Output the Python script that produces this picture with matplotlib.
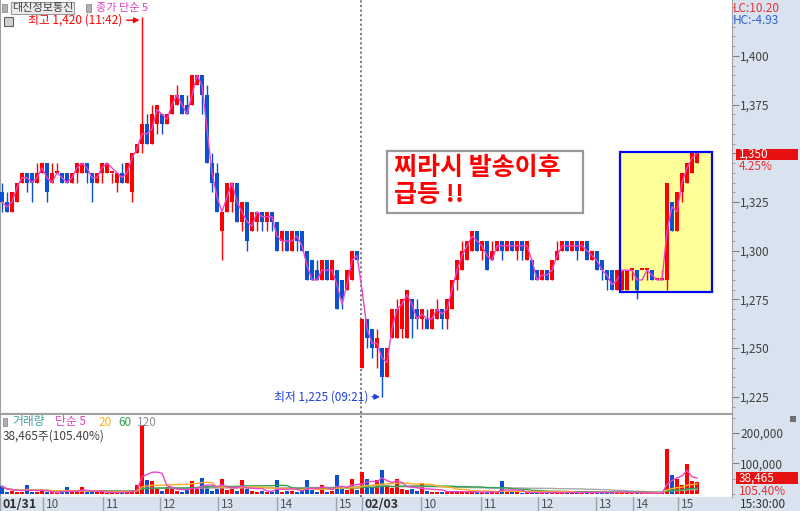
import matplotlib
matplotlib.use('Agg')
import matplotlib.pyplot as plt
import numpy as np
import pandas as pd
from matplotlib.patches import Rectangle
from matplotlib.ticker import MultipleLocator, FixedLocator, FixedFormatter

plt.rcParams['font.family'] = ['Noto Sans CJK KR', 'DejaVu Sans']

# ---------------- data (one candle ~ 5 minutes) ----------------
opens = [1330, 1325, 1320, 1325, 1335, 1340, 1340, 1335, 1340, 1345,
         1335, 1340, 1340, 1340, 1335, 1340, 1340, 1345, 1340, 1335,
         1340, 1340, 1340, 1335, 1340, 1335, 1330, 1350, 1355, 1365,
         1355, 1365, 1370, 1365, 1370, 1375, 1380, 1375, 1375, 1385,
         1390, 1380, 1345, 1340, 1310, 1320, 1325, 1335, 1315, 1325,
         1310, 1315, 1320, 1315, 1320, 1315, 1305, 1310, 1300, 1310,
         1310, 1300, 1295, 1290, 1285, 1295, 1285, 1290, 1285, 1280,
         1285, 1300,
         1240, 1265, 1260, 1250, 1250, 1235, 1255, 1255, 1260, 1255,
         1275, 1270, 1265, 1265, 1260, 1265, 1270, 1265, 1270, 1285,
         1290, 1295, 1300, 1310, 1300, 1305, 1295, 1300, 1305, 1300,
         1305, 1300, 1305, 1295, 1295, 1290, 1285, 1290, 1285, 1295,
         1300, 1305, 1300, 1305, 1300, 1305, 1295, 1300, 1295, 1290,
         1290, 1280, 1280, 1280, 1290, 1290, 1290, 1290, 1290, 1285,
         1285, 1285, 1325, 1310, 1330, 1335, 1340, 1345]
highs = [1335, 1330, 1330, 1335, 1340, 1340, 1340, 1345, 1345, 1345,
         1345, 1345, 1340, 1340, 1340, 1345, 1345, 1345, 1340, 1340,
         1345, 1345, 1340, 1340, 1345, 1345, 1350, 1355, 1420, 1370,
         1375, 1375, 1370, 1370, 1380, 1385, 1380, 1380, 1390, 1390,
         1390, 1385, 1350, 1345, 1320, 1335, 1335, 1335, 1325, 1325,
         1320, 1320, 1320, 1320, 1320, 1315, 1310, 1310, 1310, 1310,
         1310, 1300, 1295, 1295, 1295, 1295, 1295, 1290, 1285, 1290,
         1300, 1300,
         1265, 1265, 1260, 1260, 1250, 1250, 1270, 1275, 1275, 1280,
         1275, 1275, 1270, 1270, 1270, 1275, 1270, 1275, 1285, 1295,
         1305, 1305, 1310, 1310, 1305, 1305, 1305, 1305, 1305, 1305,
         1305, 1305, 1305, 1305, 1295, 1290, 1290, 1290, 1295, 1305,
         1305, 1305, 1305, 1305, 1305, 1305, 1300, 1300, 1295, 1290,
         1290, 1290, 1290, 1290, 1290, 1290, 1290, 1290, 1290, 1285,
         1290, 1335, 1325, 1330, 1340, 1345, 1350, 1350]
lows = [1320, 1320, 1320, 1325, 1335, 1330, 1325, 1335, 1340, 1325,
        1335, 1340, 1335, 1335, 1335, 1335, 1340, 1335, 1325, 1335,
        1335, 1340, 1335, 1330, 1335, 1335, 1325, 1350, 1350, 1355,
        1355, 1360, 1360, 1365, 1370, 1375, 1370, 1370, 1375, 1385,
        1370, 1345, 1330, 1320, 1295, 1320, 1320, 1315, 1310, 1300,
        1310, 1310, 1310, 1310, 1310, 1300, 1300, 1300, 1300, 1300,
        1300, 1285, 1285, 1285, 1285, 1285, 1285, 1270, 1270, 1280,
        1285, 1295,
        1240, 1250, 1245, 1240, 1225, 1235, 1255, 1255, 1255, 1255,
        1255, 1260, 1260, 1260, 1260, 1265, 1260, 1260, 1270, 1280,
        1290, 1295, 1300, 1300, 1295, 1290, 1295, 1300, 1295, 1300,
        1300, 1295, 1295, 1295, 1285, 1285, 1285, 1285, 1285, 1295,
        1300, 1300, 1300, 1295, 1300, 1295, 1295, 1290, 1285, 1280,
        1280, 1280, 1280, 1280, 1285, 1275, 1290, 1285, 1285, 1285,
        1285, 1280, 1310, 1310, 1325, 1335, 1340, 1345]
closes = [1325, 1320, 1330, 1335, 1340, 1335, 1335, 1340, 1345, 1330,
          1340, 1340, 1335, 1335, 1340, 1345, 1345, 1340, 1335, 1340,
          1345, 1345, 1340, 1340, 1335, 1345, 1350, 1355, 1365, 1355,
          1370, 1375, 1365, 1370, 1380, 1380, 1370, 1370, 1390, 1390,
          1380, 1345, 1335, 1320, 1320, 1335, 1335, 1315, 1325, 1305,
          1320, 1320, 1315, 1320, 1315, 1300, 1310, 1300, 1310, 1305,
          1300, 1285, 1285, 1285, 1295, 1285, 1295, 1270, 1275, 1290,
          1300, 1295,
          1265, 1255, 1250, 1255, 1235, 1250, 1270, 1270, 1275, 1280,
          1265, 1265, 1270, 1260, 1270, 1270, 1265, 1275, 1285, 1295,
          1300, 1305, 1310, 1300, 1305, 1290, 1300, 1305, 1300, 1305,
          1300, 1305, 1300, 1305, 1285, 1285, 1290, 1285, 1295, 1300,
          1305, 1300, 1305, 1300, 1305, 1295, 1300, 1290, 1290, 1285,
          1280, 1290, 1290, 1290, 1290, 1280, 1290, 1290, 1285, 1285,
          1285, 1335, 1310, 1330, 1340, 1345, 1350, 1350]
volumes_k = [25, 8, 10, 6, 8, 30, 6, 5, 10, 6,
             5, 4, 8, 22, 5, 6, 22, 5, 8, 5,
             6, 4, 5, 6, 5, 8, 12, 30, 225, 45,
             43, 15, 10, 22, 20, 10, 8, 12, 42, 15,
             52, 25, 10, 15, 50, 12, 15, 10, 45, 15,
             10, 8, 10, 6, 8, 45, 8, 10, 10, 6,
             15, 47, 12, 8, 30, 8, 10, 63, 15, 12,
             50, 12,
             73, 50, 20, 45, 77, 25, 20, 50, 15, 12,
             15, 10, 35, 10, 8, 8, 6, 6, 10, 8,
             6, 5, 8, 6, 5, 8, 6, 5, 42, 5,
             6, 5, 4, 6, 5, 4, 5, 4, 6, 5,
             4, 5, 6, 4, 5, 6, 4, 5, 6, 5,
             4, 8, 5, 4, 3, 6, 2, 2, 2, 2,
             3, 148, 63, 50, 30, 97, 43, 38.465]

time_labels = ['01/31', '10', '11', '12', '13', '14', '15',
               '02/03', '10', '11', '12', '13', '14', '15']
time_pos = [-0.4, 8.2, 20.2, 31.6, 43.2, 55.0, 66.8,
            72.0, 83.8, 95.8, 107.2, 118.8, 126.2, 135.2]
price_ticks = [1225, 1250, 1275, 1300, 1325, 1350, 1375, 1400]
vol_ticks = [100000, 200000]

# ---------------- style ----------------
W, H = 800, 511
RED = '#ff0000'
BLUE = '#0a50d2'
MAG = '#ee44cc'
BAND = '#d9e3ef'
GRAYTXT = '#404040'

fig = plt.figure(figsize=(W / 100, H / 100), dpi=100)
fig.patch.set_facecolor('white')
fig.add_artist(Rectangle((732 / W, 0), 68 / W, 1, transform=fig.transFigure,
                         facecolor=BAND, edgecolor='none', zorder=-5))

def fr(px, py):
    return px / W, 1 - py / H

def ftext(px, py, s, **kw):
    kw.setdefault('va', 'center')
    kw.setdefault('fontsize', 8.5)
    fig.text(px / W, 1 - py / H, s, **kw)

ax = fig.add_axes([0, 1 - 413 / H, 732 / W, 413 / H])
axv = fig.add_axes([0, 1 - 497 / H, 732 / W, 83 / H])
axt = fig.add_axes([0, 0, 732 / W, 14 / H])

o = np.array(opens, float)
h = np.array(highs, float)
l = np.array(lows, float)
c = np.array(closes, float)
v = np.array(volumes_k, float) * 1000
x = np.arange(len(c))
cols = np.where(c >= o, RED, BLUE)

XMIN, XMAX = -0.4, 146

# ---------------- price pane ----------------
ax.set_xlim(XMIN, XMAX)
ax.set_ylim(1216.7, 1428.7)
ax.add_patch(Rectangle((123.6, 1278.9), 18.4, 71.8, facecolor='#ffff99',
                       edgecolor='none', zorder=1))
ax.vlines(x, l, h, colors=cols, lw=1, zorder=2)
body_lo = np.minimum(o, c)
body_h = np.maximum(np.abs(c - o), 0.9)
ax.bar(x, body_h, bottom=body_lo, width=0.8, color=cols, lw=0, zorder=3)
ma = pd.Series(c).rolling(2, min_periods=1).mean()
ax.plot(x, ma, color=MAG, lw=1, zorder=4)
ax.add_patch(Rectangle((123.6, 1278.9), 18.4, 71.8, facecolor='none',
                       edgecolor='#0000ff', lw=1.6, zorder=5))
ax.axvline(71.8, color='#606060', lw=1.2, ls=(0, (1.2, 1.6)), zorder=1)

# annotation box
ax.add_patch(Rectangle((77.0, 1319.4), 39.2, 31.8, facecolor='white',
                       edgecolor='#999999', lw=1.6, zorder=6))
ax.text(78.3, 1342.6, '찌라시 발송이후', color=RED, fontsize=18,
        fontweight='bold', va='center', ha='left', zorder=7)
ax.text(78.3, 1328.4, '급등 !!', color=RED, fontsize=18,
        fontweight='bold', va='center', ha='left', zorder=7)

# high / low markers
ax.annotate('최고 1,420 (11:42)', xy=(27.5, 1418.3), xytext=(24.1, 1418.3),
            ha='right', va='center', color=RED, fontsize=8.5,
            arrowprops=dict(arrowstyle='-|>', color=RED, lw=1,
                            mutation_scale=8, shrinkA=1, shrinkB=0))
ax.annotate('최저 1,225 (09:21)', xy=(75.6, 1225), xytext=(73.2, 1225),
            ha='right', va='center', color='#2040e0', fontsize=8.5,
            arrowprops=dict(arrowstyle='-|>', color='#2040e0', lw=1,
                            mutation_scale=8, shrinkA=1, shrinkB=0))

ax.set_xticks([])
ax.yaxis.tick_right()
ax.yaxis.set_major_locator(FixedLocator(price_ticks))
ax.yaxis.set_major_formatter(FixedFormatter(
    ['' if p == 1350 else f'{p:,}' for p in price_ticks]))
ax.yaxis.set_minor_locator(MultipleLocator(5))
ax.tick_params(axis='y', which='major', length=5, color='#808080',
               labelcolor=GRAYTXT, labelsize=8.5, pad=1)
ax.tick_params(axis='y', which='minor', length=2.5, color='#909090')
for s in ax.spines.values():
    s.set_color('#a0a0a0')
ax.spines['top'].set_visible(False)

# ---------------- volume pane ----------------
axv.set_xlim(XMIN, XMAX)
axv.set_ylim(-10000, 262000)
axv.bar(x, v, width=0.7, color=cols, lw=0, zorder=3)
vs = pd.Series(v)
for win, colr in [(50, '#a8a8a8'), (30, '#30a050'), (15, '#ffb020'), (5, MAG)]:
    axv.plot(x, vs.rolling(win, min_periods=1).mean(), color=colr, lw=1, zorder=4)
axv.axvline(71.8, color='#606060', lw=1.2, ls=(0, (1.2, 1.6)), zorder=1)
axv.set_xticks([])
axv.yaxis.tick_right()
axv.yaxis.set_major_locator(FixedLocator(vol_ticks))
axv.yaxis.set_major_formatter(FixedFormatter([f'{t:,}' for t in vol_ticks]))
axv.yaxis.set_minor_locator(MultipleLocator(50000))
axv.tick_params(axis='y', which='major', length=5, color='#808080',
                labelcolor=GRAYTXT, labelsize=8.5, pad=1)
axv.tick_params(axis='y', which='minor', length=2.5, color='#909090')
for s in axv.spines.values():
    s.set_color('#a0a0a0')

# ---------------- time band ----------------
axt.set_xlim(XMIN, XMAX)
axt.set_ylim(0, 1)
axt.set_facecolor(BAND)
axt.set_xticks([])
axt.set_yticks([])
for s in axt.spines.values():
    s.set_visible(False)
axt.vlines(time_pos, 0, 1, colors='#9aa4b0', lw=1)
for p, lab in zip(time_pos, time_labels):
    bold = '/' in lab
    axt.text(p + 0.55, 0.45, lab, fontsize=9 if bold else 8.5,
             fontweight='bold' if bold else 'normal',
             color='#303030' if bold else '#505050', va='center', ha='left')

# ---------------- right band labels ----------------
ftext(733, 8, 'LC:10.20', color='#e83030')
ftext(733, 20, 'HC:-4.93', color='#3060d0')
fig.add_artist(Rectangle(fr(736, 160), 62 / W, 11 / H, transform=fig.transFigure,
                         facecolor='#e81010', edgecolor='none', zorder=5))
ftext(739, 154.5, '1,350', color='white', zorder=6)
ftext(739, 166, '4.25%', color='#e83030')
fig.add_artist(Rectangle(fr(736, 484), 62 / W, 12 / H, transform=fig.transFigure,
                         facecolor='#e81010', edgecolor='none', zorder=5))
ftext(739, 478, '38,465', color='white', zorder=6)
ftext(739, 491, '105.40%', color='#e83030')
ftext(740, 504, '15:30:00', color='#303030')
fig.add_artist(Rectangle(fr(790, 422), 6 / W, 6 / H, transform=fig.transFigure,
                         facecolor='#707070', edgecolor='none', zorder=5))

# ---------------- legends top-left ----------------
fig.add_artist(Rectangle(fr(2, 12), 5 / W, 8 / H, transform=fig.transFigure,
                         facecolor='#b0b0b0', edgecolor='#808080', lw=0.5))
ftext(12, 8, '대신정보통신', color=GRAYTXT, fontsize=8,
      bbox=dict(facecolor='#ececec', edgecolor='#9a9a9a', pad=0.6, lw=0.8))
fig.add_artist(Rectangle(fr(86, 12), 5 / W, 8 / H, transform=fig.transFigure,
                         facecolor='#b0b0b0', edgecolor='#808080', lw=0.5))
ftext(96, 8, '종가 단순 5', color='#e040c0', fontsize=8)
fig.add_artist(Rectangle(fr(4, 26), 9 / W, 9 / H, transform=fig.transFigure,
                         facecolor='#d0d0d0', edgecolor='#606060', lw=0.8))

fig.add_artist(Rectangle(fr(3, 426), 4 / W, 8 / H, transform=fig.transFigure,
                         facecolor='#b0b0b0', edgecolor='#808080', lw=0.5))
ftext(12, 422, '거래량', color='#40a0a0')
ftext(55, 422, '단순 5', color='#e040c0')
ftext(98, 422, '20', color='#ffb020')
ftext(118, 422, '60', color='#30a050')
ftext(137, 422, '120', color='#909090')
ftext(3, 436, '38,465주(105.40%)', color=GRAYTXT)

fig.savefig('out.png', dpi=100)
